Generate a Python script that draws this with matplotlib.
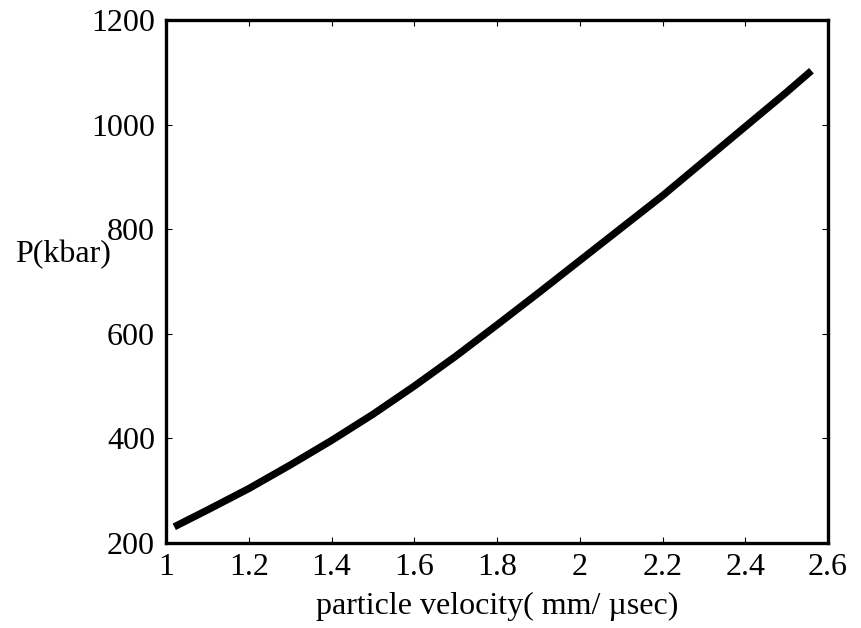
import matplotlib
matplotlib.use("Agg")
import matplotlib.pyplot as plt

velocity = [1.02, 1.1, 1.2, 1.3, 1.4, 1.5, 1.6, 1.7, 1.8, 1.9, 2.0,
            2.1, 2.2, 2.3, 2.4, 2.5, 2.56]
pressure = [231, 263, 304, 349, 396, 446, 500, 557, 617, 678, 740,
            802, 864, 930, 996, 1062, 1103]
xticks = [1, 1.2, 1.4, 1.6, 1.8, 2, 2.2, 2.4, 2.6]
xticklabels = ["1", "1.2", "1.4", "1.6", "1.8", "2", "2.2", "2.4", "2.6"]
yticks = [200, 400, 600, 800, 1000, 1200]

plt.rcParams['font.family'] = ['Liberation Serif', 'DejaVu Serif']

fig = plt.figure(figsize=(8.61, 6.28), dpi=100)
ax = fig.add_axes([166/861, 1-543/628, (828-166)/861, (543-20)/628])
ax.plot(velocity, pressure, color='black', linewidth=5.2,
        solid_capstyle='butt', solid_joinstyle='round')
ax.set_xlim(1, 2.6)
ax.set_ylim(200, 1200)
ax.set_xticks(xticks)
ax.set_xticklabels(xticklabels)
ax.set_yticks(yticks)
ax.tick_params(direction='in', length=4, width=0.8, top=True, right=True,
               labelsize=23)
ax.tick_params(axis='y', pad=8)
ax.tick_params(axis='x', pad=7)
for s in ax.spines.values():
    s.set_linewidth(2.4)
fig.text(497/861, 1-606/628, "particle velocity( mm/ \u00b5sec)",
         ha='center', va='center', fontsize=23)
fig.text(63/861, 1-255/628, "P(kbar)", ha='center', va='center', fontsize=23)
fig.savefig("out.png", dpi=100)
